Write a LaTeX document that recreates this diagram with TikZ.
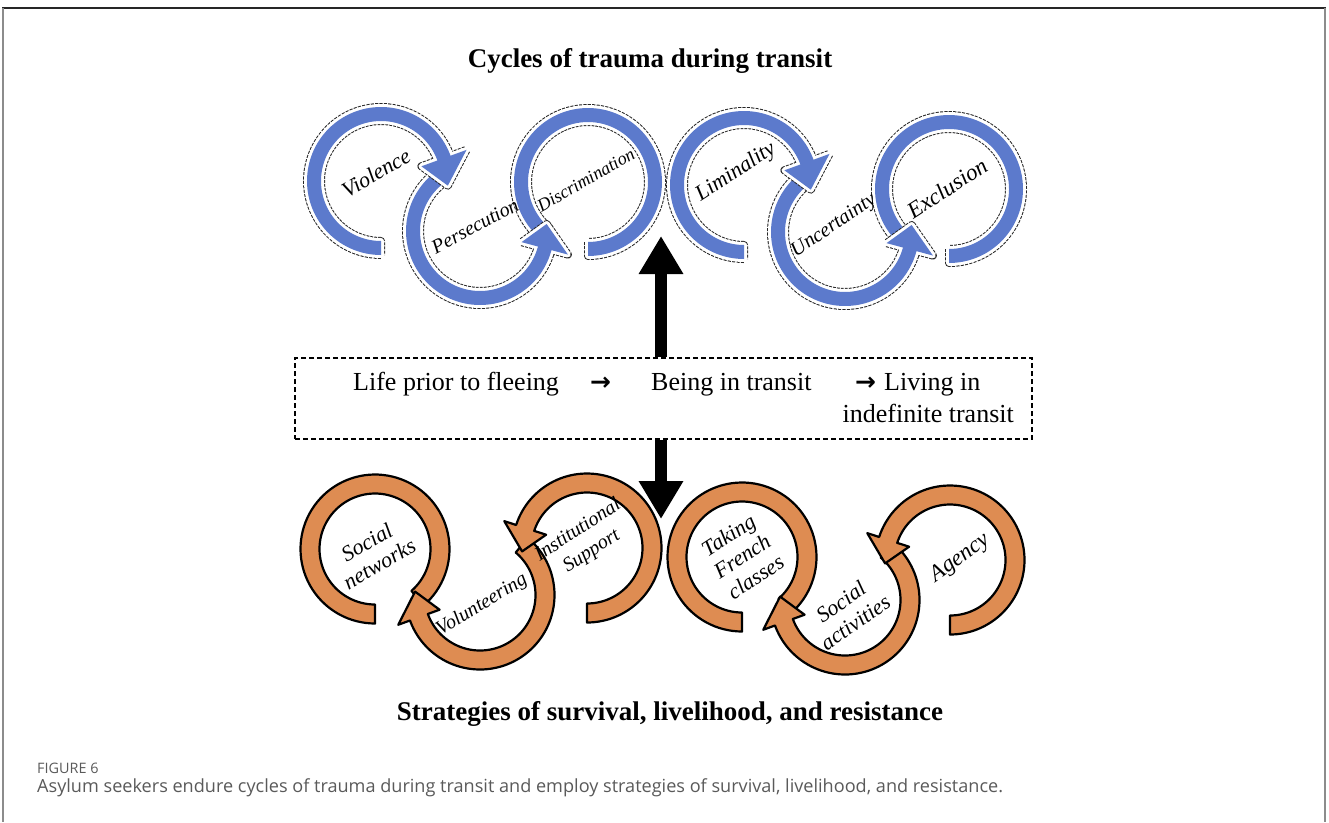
\documentclass[tikz,border=0pt]{standalone}
\usepackage{fontspec}
\setmainfont{Liberation Serif}
\newfontfamily\capfont{Open Sans}
\newfontfamily\arrfont{DejaVu Sans}
\usetikzlibrary{arrows.meta}
\definecolor{ringblue}{RGB}{92,122,204}
\definecolor{ringorange}{RGB}{222,140,82}
\definecolor{capgray}{RGB}{90,90,90}
% #1 style, #2 cx, #3 cy, #4 rho, #5 half width, #6 start angle, #7 head base angle, #8 head half width, #9 tip angle
\newcommand{\headring}[9]{%
  \path[#1] plot[domain=#6:#7,samples=90] ({#2+(#4+#5)*cos(\x)},{#3+(#4+#5)*sin(\x)})
   -- ({#2+(#4+#8)*cos(#7)},{#3+(#4+#8)*sin(#7)})
   -- ({#2+#4*cos(#9)},{#3+#4*sin(#9)})
   -- ({#2+(#4-#8)*cos(#7)},{#3+(#4-#8)*sin(#7)})
   -- plot[domain=#7:#6,samples=90] ({#2+(#4-#5)*cos(\x)},{#3+(#4-#5)*sin(\x)})
   -- cycle;}
\newcommand{\flatring}[7]{%
  \path[#1] plot[domain=#6:#7,samples=90] ({#2+(#4+#5)*cos(\x)},{#3+(#4+#5)*sin(\x)})
   -- plot[domain=#7:#6,samples=90] ({#2+(#4-#5)*cos(\x)},{#3+(#4-#5)*sin(\x)})
   -- cycle;}
\begin{document}
\begin{tikzpicture}[x=1pt,y=-1pt,
  blueband/.style={fill=ringblue, line join=round,
    preaction={draw=black!85, line width=8pt, line join=round, dash pattern=on 3pt off 1.2pt},
    preaction={draw=white, line width=6pt, line join=round}},
  orangeband/.style={fill=ringorange, draw=black, line width=2.2pt, line join=round},
  ttl/.style={inner sep=0, font=\fontsize{27}{30}\selectfont\bfseries},
  boxtxt/.style={inner sep=0, font=\fontsize{26}{30}\selectfont},
  arrglyph/.style={inner sep=0, font=\arrfont\bfseries\fontsize{25}{28}\selectfont},
  lbl/.style={inner sep=0, align=center, font=\fontsize{#1}{25}\selectfont\itshape},
  bigarrow/.style={line width=12pt, -{Triangle[width=42pt,length=38pt]}},
  capsmall/.style={inner sep=0, text=capgray, font=\capfont\fontsize{14.4}{17}\selectfont},
  capbig/.style={inner sep=0, text=capgray, font=\capfont\fontsize{18.1}{21}\selectfont}]
\useasboundingbox (0,0) rectangle (1329,822);
\fill[white] (0,0) rectangle (1329,822);
% frame
\draw[line width=1.5pt, black!85] (2,8) -- (1326,8);
\draw[line width=1.8pt, black!45] (3,8) -- (3,822);
\draw[line width=1.8pt, black!45] (1325,8) -- (1325,822);
% titles
\node[ttl, anchor=base] (toptitle) at (650,67) {Cycles of trauma during transit};
\node[ttl, anchor=base] (bottitle) at (670,720) {Strategies of survival, livelihood, and resistance};
% middle box
\node[draw, line width=1.1pt, dash pattern=on 5pt off 3pt, minimum width=737pt, minimum height=81pt, inner sep=0] (box) at (663.5,398.5) {};
\node[boxtxt, anchor=base west] (t1) at (353,390) {Life prior to fleeing};
\node[arrglyph, anchor=base west] (a1) at (590,390) {→};
\node[boxtxt, anchor=base west] (t2) at (651,390) {Being in transit};
\node[arrglyph, anchor=base west] (a2) at (855,390) {→};
\node[boxtxt, anchor=base west] (t3) at (884,390) {Living in};
\node[boxtxt, anchor=base east] (t4) at (1014,422) {indefinite transit};
% big arrows
\coordinate (uptip) at (661,236);
\coordinate (downtip) at (661,519);
\draw[bigarrow] (box.north -| uptip) -- (uptip);
\draw[bigarrow] (box.south -| downtip) -- (downtip);
% top rings
\flatring{blueband}{588}{182}{67}{7}{130}{450}
\headring{blueband}{480}{231}{67}{7}{235}{15}{24}{-6}
\headring{blueband}{381}{181}{67}{7}{90}{340}{24}{364}
\flatring{blueband}{949}{189}{67}{7}{130}{450}
\headring{blueband}{845}{232}{67}{7}{235}{15}{24}{-6}
\headring{blueband}{744}{185}{67}{7}{90}{340}{24}{364}
% bottom rings
\flatring{orangeband}{375}{549}{65}{9.5}{49}{-270}
\headring{orangeband}{480}{595}{65}{9.5}{310}{520}{22}{543}
\headring{orangeband}{587}{548}{65}{9.5}{90}{-162}{22}{-183}
\flatring{orangeband}{742}{557}{65}{9.5}{49}{-270}
\headring{orangeband}{845}{600}{65}{9.5}{310}{520}{22}{543}
\headring{orangeband}{950}{560}{65}{9.5}{90}{-162}{22}{-183}
% labels top
\node[lbl=22, rotate=30] (violence) at (376,173) {Violence};
\node[lbl=20, rotate=28] (persecution) at (475,226) {Persecution};
\node[lbl=18, rotate=30] (discrimination) at (586,180) {Discrimination};
\node[lbl=22, rotate=33] (liminality) at (736,172) {Liminality};
\node[lbl=20.5, rotate=34] (uncertainty) at (834,226) {Uncertainty};
\node[lbl=23, rotate=33] (exclusion) at (947,188) {Exclusion};
% labels bottom
\node[lbl=22, rotate=30] (socialnet) at (373,553) {Social\\networks};
\node[lbl=20, rotate=31] (volunteering) at (482,605) {Volunteering};
\node[lbl=20, rotate=33] (institutional) at (585,541) {Institutional\\Support};
\node[lbl=22, rotate=33] (french) at (742,556) {Taking\\French\\classes};
\node[lbl=22, rotate=35] (socialact) at (848,612) {Social\\activities};
\node[lbl=23, rotate=36] (agency) at (960,558) {Agency};
% caption
\node[capsmall, anchor=base west] (fig) at (37,773) {FIGURE 6};
\node[capbig, anchor=base west] (caption) at (37,792) {Asylum seekers endure cycles of trauma during transit and employ strategies of survival, livelihood, and resistance.};
\end{tikzpicture}
\end{document}
